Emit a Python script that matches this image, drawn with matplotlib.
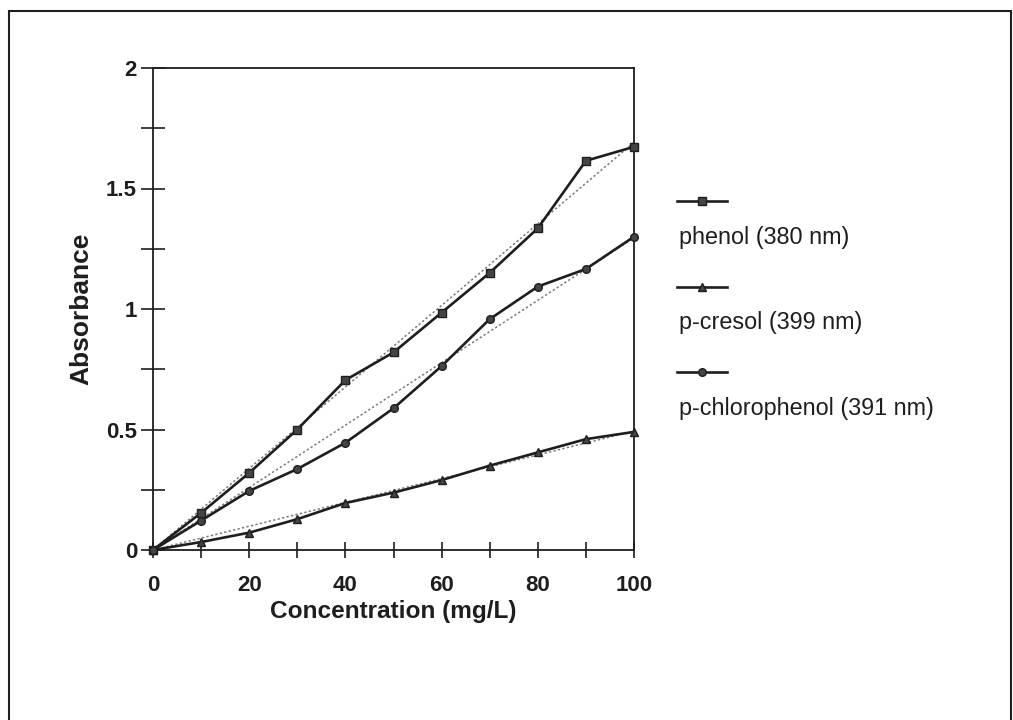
import numpy as np
import matplotlib
matplotlib.use("Agg")
import matplotlib.pyplot as plt
from matplotlib.lines import Line2D
from matplotlib.patches import Rectangle
from matplotlib.ticker import MultipleLocator

plt.rcParams['font.family'] = ['Liberation Sans', 'DejaVu Sans']

# calibration data, absorbance vs concentration
conc = [0, 10, 20, 30, 40, 50, 60, 70, 80, 90, 100]
phenol = [0, 0.154, 0.32, 0.50, 0.705, 0.82, 0.985, 1.15, 1.335, 1.615, 1.673]
cresol = [0, 0.033, 0.072, 0.128, 0.195, 0.238, 0.29, 0.35, 0.405, 0.46, 0.49]
chlorophenol = [0, 0.122, 0.245, 0.336, 0.445, 0.588, 0.763, 0.958, 1.093, 1.166, 1.30]

labels = ['phenol (380 nm)', 'p-cresol (399 nm)', 'p-chlorophenol (391 nm)']
markers = ['s', '^', 'o']
series = [phenol, cresol, chlorophenol]

ink = '#1e1e1e'

fig = plt.figure(figsize=(10.13, 7.2), dpi=100)
ax = fig.add_axes([153 / 1013, 1 - 550 / 720, (634 - 153) / 1013, (550 - 68) / 720])

x = np.array(conc, dtype=float)
for y, m in zip(series, markers):
    y = np.array(y)
    # linear trend forced through the origin
    slope = np.sum(x * y) / np.sum(x * x)
    xt = np.array([0, 100])
    ax.plot(xt, slope * xt, color='#7a7a7a', lw=1.1, ls=(0, (1.5, 1.5)), zorder=2)
    ax.plot(x, y, color=ink, lw=1.9, marker=m, ms=5.5, mfc='#444444', mec=ink, zorder=3,
            clip_on=False)

ax.set_xlim(0, 100)
ax.set_ylim(0, 2)
ax.xaxis.set_major_locator(MultipleLocator(20))
ax.xaxis.set_minor_locator(MultipleLocator(10))
ax.yaxis.set_major_locator(MultipleLocator(0.5))
ax.yaxis.set_minor_locator(MultipleLocator(0.25))
ax.yaxis.set_major_formatter(plt.FuncFormatter(lambda v, p: f'{v:g}'))

for s in ax.spines.values():
    s.set_linewidth(1.3)
    s.set_color(ink)

ax.tick_params(axis='x', which='both', direction='inout', length=11.5, width=1.2,
               color=ink, pad=12)
ax.tick_params(axis='y', which='both', direction='inout', length=17, width=1.2,
               color=ink, pad=3)
for t in ax.get_xticklabels() + ax.get_yticklabels():
    t.set_fontsize(16)
    t.set_fontweight('bold')
    t.set_color(ink)

ax.set_xlabel('Concentration (mg/L)', fontsize=17.6, fontweight='bold', color=ink, labelpad=3)
ax.set_ylabel('Absorbance', fontsize=19, fontweight='bold', color=ink, labelpad=9)

# legend: sample line above each label
sample_y = [201, 287, 372]
text_y = [238, 323, 408]
for lab, m, sy, ty in zip(labels, markers, sample_y, text_y):
    fig.add_artist(Line2D([677 / 1013, 727 / 1013], [1 - sy / 720, 1 - sy / 720],
                          color=ink, lw=1.9, marker=None))
    fig.add_artist(Line2D([702 / 1013], [1 - sy / 720], color=ink, marker=m, ms=5.5,
                          mfc='#444444', mec=ink, ls='none'))
    fig.text(679 / 1013, 1 - ty / 720, lab, fontsize=16.8, color=ink, va='center', ha='left')

# outer frame
fig.add_artist(Rectangle((9 / 1013, -0.05), (1011 - 9) / 1013, 1.05 - 11 / 720,
                         transform=fig.transFigure, fill=False, lw=1.5, ec=ink))

fig.savefig('out.png', dpi=100)
